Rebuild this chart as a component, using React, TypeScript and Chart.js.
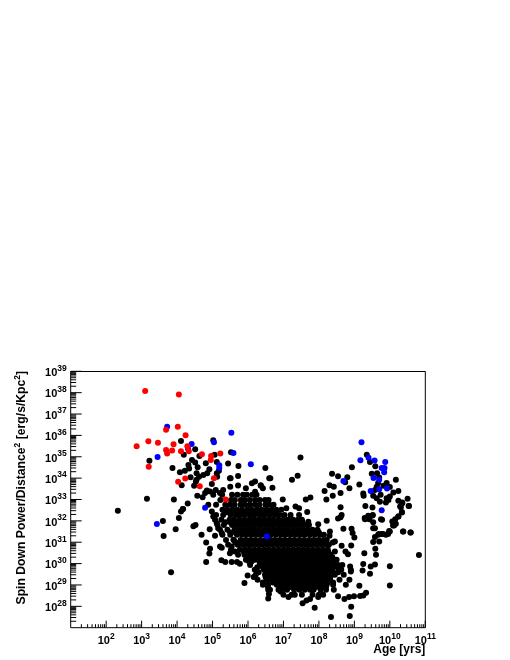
import React, { useEffect, useRef } from "react";
import { Chart, registerables } from "chart.js";

Chart.register(...registerables);

// All values are log10(age in yrs), log10(power).
const redAges = [3.1,4.05,3.69,4.02,4.24,3.19,3.46,2.86,3.9,4.29,3.69,3.86,3.72,4.11,4.33,4.7,4.96,4.95,5.22,3.2,4.03,4.23,4.64,5.04,5.37];
const redPowers = [38.08,37.92,36.26,36.4,36.01,35.73,35.66,35.49,35.59,35.49,35.32,35.29,35.15,35.26,35.26,35.12,35.04,34.85,35.15,34.53,33.83,33.98,33.62,34,33];

const blueAges = [3.72,5.53,4.41,5.04,4.31,5.59,3.45,5.19,5.19,4.79,6.08,3.43,6.53,9.2,9.17,9.4,9.57,9.87,9.77,9.85,9.84,9.54,9.7,9.7,9.92,9.46,9.77,8.69];
const bluePowers = [36.41,36.12,35.6,35.68,35.37,35.18,34.99,34.6,34.48,32.61,34.65,31.85,31.27,35.68,34.84,34.95,34.82,34.76,34.48,34.48,34.28,34.01,33.92,33.48,33.51,33.4,32.5,33.86];

const blackAges = [
  4.11,5.02,4.51,4.19,5.06,5.52,3.22,4.42,4.63,4.81,5.12,5.44,3.87,4.08,4.22,4.32,4.34,4.51,4.58,4.55,4.62,4.38,4.74,4.85,4.91,5.12,5.18,5.13,5.51,5.73,
  4.13,4.53,4.48,4.55,4.84,4.98,4.57,4.72,4.79,4.93,5.09,5.02,5.21,3.15,3.91,4.3,4.17,2.33,3.6,3.62,3.96,4.05,4.11,4.16,4.46,4.52,4.69,4.82,4.93,4.91,
  4.82,3.83,4.92,5.07,5.21,5.26,5.25,5.36,5.54,5.69,5.77,5.99,5.9,6.16,5.49,5.63,5.54,6.01,6.1,5.02,5.12,5.16,5.26,5.59,4.88,4.98,
  5.49,5.72,5.94,6.11,6.36,6.2,6.42,6.63,5.3,5.5,5.72,
  7.48,6.49,7.4,7.24,6.6,6.36,6.69,6.2,6.98,7.63,7.76,7.08,7.34,7.44,8.37,8.54,8.8,8.93,8.74,8.86,8.3,8.42,8.16,8.61,8.39,8.21,9.14,9.26,9.25,8.61,9.31,9.51,
  9.35,9.44,9.59,9.49,9.64,9.7,10.17,10.24,9.67,9.91,9.63,9.82,9.58,10,10.1,9.53,9.63,9.72,9.91,10,9.89,9.96,9.74,10.5,10.24,10.35,10.54,10.31,10.34,10.24,10.15,10.07,
  9.75,9.52,9.39,9.29,9.53,9.42,8.64,8.61,8.69,8.92,8.95,9,9.58,9.58,9.67,9.77,9.89,10,10.12,10.38,10.59,
  10.82,10,10,9.58,9.46,9.44,9.28,9.59,9.61,9.25,9.23,9.14,9.33,9.25,9.16,8.99,8.85,8.72,8.54,8.91,8.87,8.34,7.88,7.54,7.65,7.75,7.98,7.14,7.23,6.57,6.59,6.92,7.04,6.56,
  8.91,8.64,8.75,8.82,8.45,8.39,8.45,8.31,8.3,8.22,8.54,7.67,7.44,7.25,7.53,7.7,7.98,8.88,8.9,9.3,9.51,9.42,9.53,9.78,9.53,9.7,9.69,9.81,9.95,9.98,10.09,10.17,10.24,10.34,10.37,10.58,10.53,10.29,10.35,
];
const blackPowers = [
  35.74,35.77,35.35,35.09,35.1,35.21,34.81,34.85,35.04,34.7,34.76,34.68,34.48,34.28,34.34,34.62,34.45,34.73,34.51,34.23,34.07,34.04,34.15,34.23,34.42,34.23,34.35,34.07,34,34.57,
  33.67,33.84,33.64,33.92,33.42,33.72,33.17,33.11,33.3,33.37,33.45,33.22,33.3,33.04,33,32.81,32.56,32.47,31.99,31.29,31.61,32.14,32.44,32.55,31.75,31.81,31.35,30.99,30.7,30.47,
  30.08,29.59,31.61,31.3,30.8,30.74,30.16,30.07,30.08,30.08,29.99,29.44,29.09,29.37,30.49,30.57,30.8,30.13,30.1,32.2,31.89,31.66,31.43,31.12,32.75,32.44,
  34,34.1,33.53,33.76,33.67,33.36,33.53,34,33.45,33.6,33.65,
  34.96,34.47,34.11,33.92,34,33.64,33.55,33.84,33,33,33.09,32.59,32.67,32.59,34.2,34.09,34.04,34.51,33.81,33.53,33.67,33.6,33.4,33.31,33.18,33,33.7,33.17,33.28,32.64,32.7,32.62,
  35.09,34.75,34.56,34.21,34.23,34.03,33.92,33.4,33.77,33.77,33.6,33.64,33.45,33.58,33.33,33.17,33.06,32.9,33.06,33.14,32.86,32.98,33.22,33.03,32.94,32.86,32.69,32.64,32.41,32.2,32.08,31.97,
  32.08,32.28,32.24,32.13,31.93,32.08,32.28,32.17,31.63,31.63,31.43,31.22,31.66,31.24,31.35,31.39,31.35,31.5,31.78,31.5,31.45,
  30.4,29.88,28.98,29.96,29.86,29.52,30.48,30.69,30.41,29.98,29.68,28.96,28.64,28.51,28.48,28.47,28.44,28.34,28.47,27.98,27.55,27.5,27.93,28.14,28.27,28.34,28.44,28.44,28.54,28.37,28.58,28.7,28.81,28.93,
  30.85,30.84,30.57,30.44,30.57,30.99,31.04,31.5,31.3,32,32.11,32.41,32.27,32.02,31.96,31.96,31.84,29.87,29.63,32.08,32.25,32.13,31.66,32.05,31.01,31.03,31.38,31.38,31.38,31.53,31.78,31.86,32.2,32.39,31.5,31.45,32.7,32.67,32.83,
];

// The dense core: one list of ages for each power row.
const corePowers = [33.22,32.98,32.75,32.52,32.4,32.28,32.05,31.93,31.81,31.58,31.46,31.35,31.11,31.0,30.88,30.65,30.53,30.41,30.3,30.18,30.06,29.94,29.83,29.71,29.6,29.48,29.36,29.24,29.12,29.01,28.9,28.78,28.54];
const coreAges = [
  [5.27,5.55,5.7,5.86,5.97,6.12,6.24],
  [5.22,5.52,5.63,5.8,5.9,6.05,6.2,6.33,6.48,6.58],
  [5.1,5.36,5.49,5.62,5.79,5.91,6.05,6.19,6.32,6.49,6.6,6.72],
  [5.28,5.41,5.56,5.69,5.83,5.98,6.1,6.25,6.39,6.52,6.67,6.8,6.94],
  [5.4,5.52,5.68,5.8,5.94,6.08,6.22,6.36,6.5,6.63,6.78],
  [5.1,5.3,5.51,5.66,5.79,5.92,6.07,6.2,6.35,6.48,6.62,6.76,6.89,7.03,7.2],
  [5.07,5.25,5.48,5.6,5.75,5.89,6.03,6.16,6.3,6.44,6.58,6.71,6.86,7,7.13,7.27,7.41,7.52],
  [5.36,5.5,5.64,5.78,5.92,6.06,6.2,6.34,6.48,6.62,6.76,6.9,7.04,7.18,7.32,7.44],
  [5.14,5.32,5.55,5.68,5.82,5.96,6.1,6.23,6.37,6.51,6.65,6.78,6.92,7.06,7.2,7.33,7.47,7.6,7.72],
  [5.21,5.42,5.62,5.76,5.9,6.03,6.17,6.31,6.45,6.58,6.72,6.86,7,7.13,7.27,7.41,7.55,7.68,7.82,7.96],
  [5.5,5.64,5.78,5.92,6.06,6.2,6.34,6.48,6.62,6.76,6.9,7.04,7.18,7.32,7.46,7.6,7.74,7.88,8.0],
  [5.28,5.5,5.69,5.83,5.96,6.1,6.24,6.38,6.51,6.65,6.79,6.93,7.06,7.2,7.34,7.48,7.61,7.75,7.89,8.03,8.14],
  [5.38,5.6,5.79,5.93,6.07,6.2,6.34,6.48,6.62,6.75,6.89,7.03,7.17,7.3,7.44,7.58,7.72,7.85,7.99,8.13,8.22],
  [5.64,5.78,5.92,6.06,6.2,6.34,6.48,6.62,6.76,6.9,7.04,7.18,7.32,7.46,7.6,7.74,7.88,8.02,8.16],
  [5.44,5.71,5.85,5.99,6.12,6.26,6.4,6.54,6.67,6.81,6.95,7.09,7.22,7.36,7.5,7.64,7.77,7.91,8.05,8.19,8.28],
  [5.52,5.77,5.91,6.04,6.18,6.32,6.46,6.59,6.73,6.87,7.01,7.14,7.28,7.42,7.56,7.69,7.83,7.97,8.11,8.25],
  [5.89,6.03,6.17,6.31,6.45,6.59,6.73,6.87,7.01,7.15,7.29,7.43,7.57,7.71,7.85,7.99,8.13,8.27],
  [5.72,5.9,6.13,6.27,6.41,6.55,6.68,6.82,6.96,7.1,7.23,7.37,7.51,7.65,7.78,7.92,8.06,8.2,8.33],
  [6.0,6.15,6.3,6.44,6.58,6.72,6.86,7.0,7.14,7.28,7.42,7.56,7.7,7.84,7.98,8.12,8.26,8.38],
  [5.94,6.2,6.33,6.47,6.61,6.75,6.88,7.02,7.16,7.3,7.43,7.57,7.71,7.85,7.98,8.12,8.26,8.4,8.5],
  [6.05,6.33,6.47,6.61,6.75,6.89,7.03,7.17,7.31,7.45,7.59,7.73,7.87,8.01,8.15,8.29,8.43],
  [6.06,6.34,6.47,6.61,6.75,6.89,7.02,7.16,7.3,7.44,7.57,7.71,7.85,7.99,8.12,8.26,8.4,8.54,8.66],
  [6.26,6.42,6.56,6.7,6.84,6.98,7.12,7.26,7.4,7.54,7.68,7.82,7.96,8.1,8.24,8.38,8.52],
  [6.19,6.45,6.58,6.72,6.86,7,7.13,7.27,7.41,7.55,7.68,7.82,7.96,8.1,8.23,8.37,8.63,8.9],
  [6.3,6.58,6.72,6.86,7,7.14,7.28,7.42,7.56,7.7,7.84,7.98,8.12,8.26,8.4,8.54],
  [6.22,6.48,6.61,6.75,6.89,7.03,7.16,7.3,7.44,7.58,7.71,7.85,7.99,8.13,8.26,8.45,8.7],
  [6.5,6.64,6.78,6.92,7.06,7.2,7.34,7.48,7.62,7.76,7.9,8.04,8.18,8.32],
  [6.27,6.53,6.66,6.8,6.94,7.08,7.21,7.35,7.49,7.63,7.76,7.9,8.04,8.18,8.31,8.58,8.86],
  [6.42,6.7,6.84,6.98,7.12,7.26,7.4,7.54,7.68,7.82,7.96,8.1,8.24,8.4],
  [6.42,6.56,6.81,6.95,7.12,7.26,7.39,7.53,7.67,7.81,7.94,8.08,8.22,8.4,8.76],
  [6.9,7.04,7.2,7.36,7.5,7.64,7.78,7.92,8.06,8.2],
  [6.57,6.62,6.86,7.1,7.3,7.45,7.6,7.75,7.85,8.05,8.2,8.42],
  [7.0,7.32,7.52,7.82,8.0,8.12],
];

const xTickExponents = [2, 3, 4, 5, 6, 7, 8, 9, 10, 11];
const yTickExponents = [28, 29, 30, 31, 32, 33, 34, 35, 36, 37, 38, 39];
const xRange = [1, 11];
const yRange = [27, 39];
const minorSteps = [2, 3, 4, 5, 6, 7, 8, 9];

const FONT = '"Liberation Sans", Arial, sans-serif';

const toPoints = (ages: number[], powers: number[]) =>
  ages.map((a, i) => ({ x: 10 ** a, y: 10 ** powers[i] }));

const corePoints = coreAges.flatMap((ages, r) =>
  ages.map((a) => ({ x: 10 ** a, y: 10 ** corePowers[r] }))
);

function drawPower(ctx: CanvasRenderingContext2D, exp: number, x: number, y: number, align: string) {
  ctx.font = `bold 11px ${FONT}`;
  const w = ctx.measureText("10").width;
  ctx.font = `bold 8.5px ${FONT}`;
  const sw = ctx.measureText(String(exp)).width;
  const left = align === "center" ? x - (w + sw) / 2 : x - (w + sw);
  ctx.textAlign = "left";
  ctx.textBaseline = "alphabetic";
  ctx.font = `bold 11px ${FONT}`;
  ctx.fillText("10", left, y);
  ctx.font = `bold 8.5px ${FONT}`;
  ctx.fillText(String(exp), left + w, y - 5.5);
}

const rootAxes = {
  id: "rootAxes",
  afterDatasetsDraw(chart: any) {
    const { ctx, chartArea: a, scales } = chart;
    const sx = scales.x;
    const sy = scales.y;
    ctx.save();
    ctx.fillStyle = "#000";
    ctx.strokeStyle = "#000";
    ctx.lineWidth = 1;
    const line = (x0: number, y0: number, x1: number, y1: number) => {
      ctx.beginPath();
      ctx.moveTo(x0, y0);
      ctx.lineTo(x1, y1);
      ctx.stroke();
    };
    line(a.left, a.bottom, a.left, a.top);
    line(a.left, 371.5, a.right, 371.5);
    line(a.right, a.top, a.right, a.bottom);
    line(a.left, a.bottom, a.right, a.bottom);
    for (let e = xRange[0]; e < xRange[1]; e++) {
      minorSteps.forEach((m) => {
        const p = sx.getPixelForValue(m * 10 ** e);
        line(p, a.bottom, p, a.bottom - 3.5);
      });
    }
    xTickExponents.forEach((e) => {
      const p = sx.getPixelForValue(10 ** e);
      line(p, a.bottom, p, a.bottom - 7);
      drawPower(ctx, e, p, 644, "center");
    });
    for (let e = yRange[0]; e < yRange[1]; e++) {
      minorSteps.forEach((m) => {
        const p = sy.getPixelForValue(m * 10 ** e);
        line(a.left, p, a.left + 5.5, p);
      });
    }
    yTickExponents.forEach((e) => {
      const p = sy.getPixelForValue(10 ** e);
      line(a.left, p, a.left + 11, p);
      drawPower(ctx, e, 66.7, p + 4.8, "right");
    });

    ctx.font = `bold 12px ${FONT}`;
    ctx.textAlign = "right";
    ctx.textBaseline = "alphabetic";
    ctx.fillText("Age [yrs]", a.right, 652.5);

    ctx.translate(25, 604.5);
    ctx.rotate(-Math.PI / 2);
    ctx.textAlign = "left";
    let cx = 0;
    [
      ["Spin Down Power/Distance", false],
      ["2", true],
      [" [erg/s/Kpc", false],
      ["2", true],
      ["]", false],
    ].forEach(([t, sup]) => {
      ctx.font = sup ? `bold 8.5px ${FONT}` : `bold 12.2px ${FONT}`;
      ctx.fillText(t as string, cx, sup ? -5 : 0);
      cx += ctx.measureText(t as string).width;
    });
    ctx.restore();
  },
};

export default function App() {
  const ref = useRef<HTMLCanvasElement>(null);
  useEffect(() => {
    const base = { showLine: false, pointRadius: 3, pointBorderWidth: 0, pointHoverRadius: 3 };
    const chart = new Chart(ref.current!, {
      type: "scatter",
      data: {
        datasets: [
          { ...base, label: "red", data: toPoints(redAges, redPowers), backgroundColor: "#ff0000" },
          { ...base, label: "blue", data: toPoints(blueAges, bluePowers), backgroundColor: "#0000ff" },
          { ...base, label: "black", data: [...toPoints(blackAges, blackPowers), ...corePoints], backgroundColor: "#000000" },
        ],
      },
      options: {
        animation: false,
        responsive: false,
        events: [],
        layout: { padding: { left: 70.7, top: 371.3, right: 84.7, bottom: 32.3 }, autoPadding: false },
        plugins: { legend: { display: false }, tooltip: { enabled: false }, title: { display: false } },
        scales: {
          x: {
            type: "logarithmic",
            min: 10 ** xRange[0],
            max: 10 ** xRange[1],
            grid: { display: false },
            border: { display: false },
            ticks: { display: false },
            afterFit: (s: any) => { s.height = 0; },
          },
          y: {
            type: "logarithmic",
            min: 10 ** yRange[0],
            max: 10 ** yRange[1],
            grid: { display: false },
            border: { display: false },
            ticks: { display: false },
            afterFit: (s: any) => { s.width = 0; },
          },
        },
      } as any,
      plugins: [rootAxes],
    });
    return () => chart.destroy();
  }, []);
  return (
    <canvas
      ref={ref}
      width={510}
      height={660}
      style={{ position: "absolute", left: 0, top: 0, width: 510, height: 660, background: "#fff" }}
    />
  );
}
